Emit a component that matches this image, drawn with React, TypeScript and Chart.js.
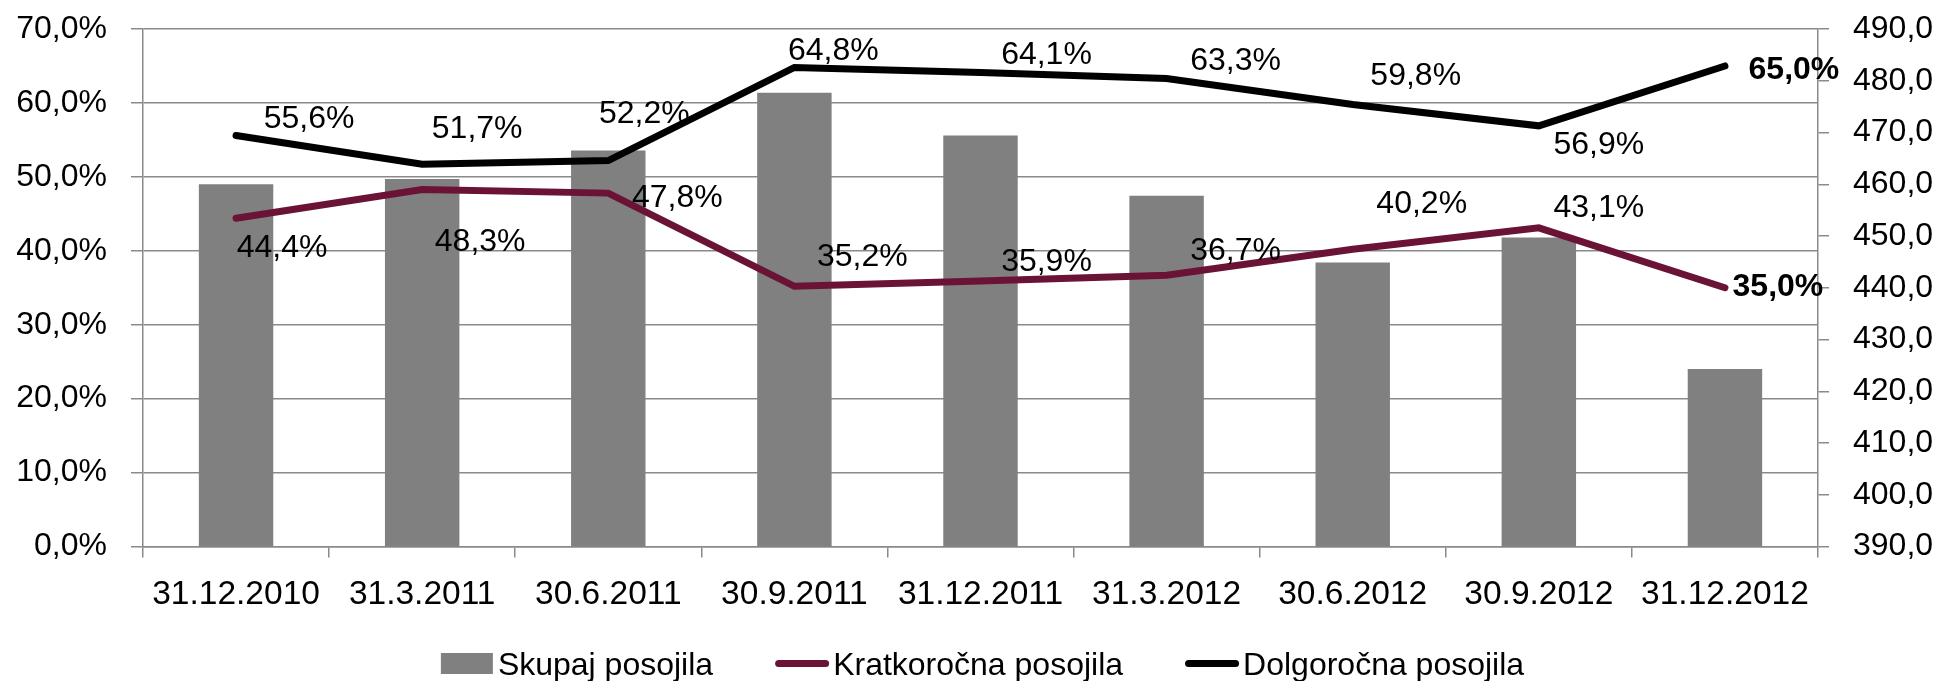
import React, { useEffect, useRef } from 'react';
import { Chart, registerables } from 'chart.js';

Chart.register(...registerables);

// ---- data ----
const categories = [
  '31.12.2010', '31.3.2011', '30.6.2011', '30.9.2011', '31.12.2011',
  '31.3.2012', '30.6.2012', '30.9.2012', '31.12.2012',
];
const skupajPosojila = [460.0, 461.0, 466.5, 477.7, 469.4, 457.8, 444.9, 449.7, 424.3];
const kratkorocnaPosojila = [44.4, 48.3, 47.8, 35.2, 35.9, 36.7, 40.2, 43.1, 35.0];
const dolgorocnaPosojila = [55.6, 51.7, 52.2, 64.8, 64.1, 63.3, 59.8, 56.9, 65.0];
const leftTickLabels = ['0,0%', '10,0%', '20,0%', '30,0%', '40,0%', '50,0%', '60,0%', '70,0%'];
const rightTickLabels = ['390,0', '400,0', '410,0', '420,0', '430,0', '440,0', '450,0', '460,0', '470,0', '480,0', '490,0'];

// ---- layout of data labels (offset of label centre from its point, px) ----
const kratLabelOffsets = [[46, 27], [58, 50], [69, 2], [68, -32], [66, -22], [69, -27], [69, -48], [60, -22], [53, -3]];
const dolgLabelOffsets = [[73, -19], [55, -38], [36, -49], [39, -19], [66, -20], [69, -20], [63, -31], [60, 17], [69, 2]];

const FONT = '"Liberation Sans", Arial, sans-serif';
const GRID = '#8a8a8a';
const BAR = '#808080';
const PURPLE = '#6b1337';

const fmt = (v: number) => v.toFixed(1).replace('.', ',');

const labelPlugin = {
  id: 'pointLabels',
  afterDatasetsDraw(chart: any) {
    const ctx = chart.ctx;
    const specs = [
      { index: 1, offsets: kratLabelOffsets },
      { index: 2, offsets: dolgLabelOffsets },
    ];
    ctx.save();
    ctx.fillStyle = '#000';
    ctx.textAlign = 'center';
    ctx.textBaseline = 'alphabetic';
    specs.forEach(({ index, offsets }) => {
      const meta = chart.getDatasetMeta(index);
      const data = chart.data.datasets[index].data as number[];
      meta.data.forEach((pt: any, i: number) => {
        const bold = i === data.length - 1;
        ctx.font = `${bold ? 'bold ' : ''}32px ${FONT}`;
        const [dx, dy] = offsets[i];
        ctx.fillText(fmt(data[i]) + '%', pt.x + dx, pt.y + dy + 11.5);
      });
    });
    ctx.restore();
  },
};

const legendPlugin = {
  id: 'customLegend',
  afterDraw(chart: any) {
    const ctx = chart.ctx;
    ctx.save();
    ctx.font = `32px ${FONT}`;
    const items = chart.data.datasets.map((ds: any) => ({
      type: ds.type,
      color: ds.type === 'bar' ? ds.backgroundColor : ds.borderColor,
      text: ds.label,
      w: ctx.measureText(ds.label).width,
    }));
    const markerW = (t: string) => (t === 'bar' ? 52 : 54);
    const markerGap = (t: string) => (t === 'bar' ? 5 : 4);
    const itemGap = 62;
    let total = 0;
    items.forEach((it: any, i: number) => {
      total += markerW(it.type) + markerGap(it.type) + it.w + (i < items.length - 1 ? itemGap : 0);
    });
    const area = chart.chartArea;
    let x = (area.left + area.right) / 2 - total / 2 + 2;
    const yc = 663.5;
    ctx.textAlign = 'left';
    ctx.textBaseline = 'alphabetic';
    items.forEach((it: any) => {
      if (it.type === 'bar') {
        ctx.fillStyle = it.color;
        ctx.fillRect(x, yc - 10.5, 52, 21);
      } else {
        ctx.strokeStyle = it.color;
        ctx.lineWidth = 7;
        ctx.lineCap = 'round';
        ctx.beginPath();
        ctx.moveTo(x + 3.5, yc);
        ctx.lineTo(x + 54 - 3.5, yc);
        ctx.stroke();
      }
      x += markerW(it.type) + markerGap(it.type);
      ctx.fillStyle = '#000';
      ctx.fillText(it.text, x, yc + 11);
      x += it.w + itemGap;
    });
    ctx.restore();
  },
};

export default function App() {
  const ref = useRef<HTMLCanvasElement>(null);
  useEffect(() => {
    document.body.style.margin = '0';
    document.body.style.overflow = 'hidden';
    const canvas = ref.current!;
    const tickFont = { family: FONT, size: 32 };
    const chart = new Chart(canvas, {
      type: 'bar',
      data: {
        labels: categories,
        datasets: [
          {
            type: 'bar',
            label: 'Skupaj posojila',
            data: skupajPosojila,
            yAxisID: 'y1',
            backgroundColor: BAR,
            barPercentage: 0.4,
            categoryPercentage: 1,
            order: 3,
          },
          {
            type: 'line',
            label: 'Kratkoročna posojila',
            data: kratkorocnaPosojila,
            yAxisID: 'y',
            borderColor: PURPLE,
            backgroundColor: PURPLE,
            borderWidth: 7,
            pointRadius: 0,
            tension: 0,
            borderCapStyle: 'round',
            borderJoinStyle: 'miter',
            order: 2,
          },
          {
            type: 'line',
            label: 'Dolgoročna posojila',
            data: dolgorocnaPosojila,
            yAxisID: 'y',
            borderColor: '#000000',
            backgroundColor: '#000000',
            borderWidth: 7,
            pointRadius: 0,
            tension: 0,
            borderCapStyle: 'round',
            borderJoinStyle: 'miter',
            order: 1,
          },
        ],
      } as any,
      options: {
        responsive: false,
        animation: false,
        devicePixelRatio: 1,
        layout: { padding: { top: 29, left: 0, right: 0, bottom: 0 } },
        plugins: { legend: { display: false }, tooltip: { enabled: false } },
        scales: {
          x: {
            grid: { display: true, drawOnChartArea: false, color: GRID, tickLength: 11, lineWidth: 1.5, offset: true },
            border: { display: true, color: GRID, width: 1.5 },
            ticks: { font: { family: FONT, size: 33.5 }, color: '#000', padding: 17, maxRotation: 0, minRotation: 0, autoSkip: false },
            afterFit: (s: any) => { s.height = 134.5; s.paddingLeft = 0; s.paddingRight = 0; },
          },
          y: {
            position: 'left',
            min: 0,
            max: 70,
            ticks: {
              stepSize: 10,
              font: tickFont,
              color: '#000',
              padding: 24,
              callback: (_v: any, i: number) => leftTickLabels[i],
            },
            grid: { color: GRID, tickLength: 12, lineWidth: 1.5 },
            border: { display: true, color: GRID, width: 1.5 },
            afterFit: (s: any) => { s.width = 143; s.paddingTop = 0; s.paddingBottom = 0; },
          },
          y1: {
            position: 'right',
            min: 390,
            max: 490,
            ticks: {
              stepSize: 10,
              font: tickFont,
              color: '#000',
              padding: 24,
              callback: (_v: any, i: number) => rightTickLabels[i],
            },
            grid: { drawOnChartArea: false, color: GRID, tickLength: 11, lineWidth: 1.5 },
            border: { display: true, color: GRID, width: 1.5 },
            afterFit: (s: any) => { s.width = 123; s.paddingTop = 0; s.paddingBottom = 0; },
          },
        },
      } as any,
      plugins: [labelPlugin, legendPlugin],
    });
    return () => chart.destroy();
  }, []);
  return (
    <canvas
      ref={ref}
      width={1941}
      height={681}
      style={{ display: 'block', width: 1941, height: 681 }}
    />
  );
}
